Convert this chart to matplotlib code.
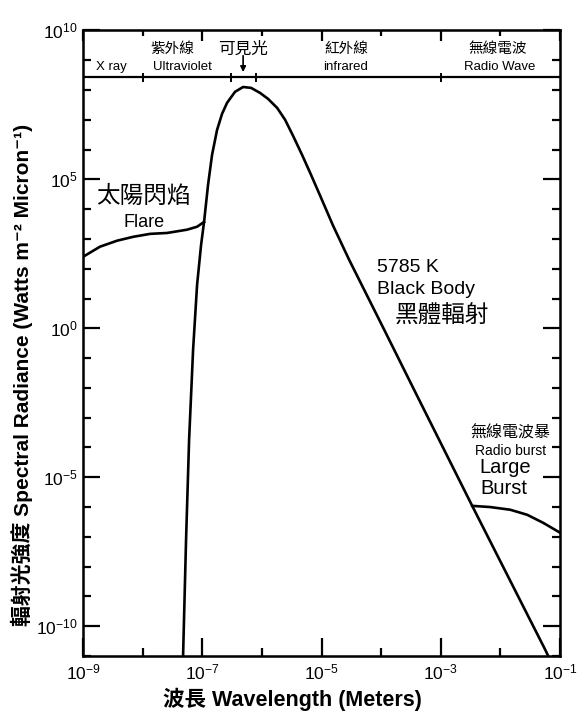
import numpy as np
import matplotlib
matplotlib.use('Agg')
import matplotlib.pyplot as plt
from matplotlib.ticker import FixedLocator, NullFormatter

plt.rcParams['font.family'] = ['Liberation Sans', 'Noto Sans CJK TC', 'DejaVu Sans']
plt.rcParams['mathtext.fontset'] = 'custom'
plt.rcParams['mathtext.rm'] = 'Liberation Sans'
plt.rcParams['mathtext.default'] = 'regular'

# curves, as log10 values
bb_log_wl = [-7.322, -7.272, -7.221, -7.154, -7.087, -7.020, -6.970, -6.903, -6.836,
             -6.752, -6.668, -6.584, -6.450, -6.315, -6.181, -6.030, -5.896, -5.745,
             -5.611, -5.477, -5.326, -5.191, -5.023, -4.805, -4.537, -3.966, -3.396,
             -2.473, -1.248, -1.198]
bb_log_rad = [-11.0, -7.10, -3.74, -0.72, 1.46, 2.80, 3.57, 4.82, 5.82,
              6.66, 7.20, 7.57, 7.94, 8.10, 8.07, 7.90, 7.70, 7.40,
              7.00, 6.46, 5.82, 5.22, 4.45, 3.44, 2.30, 0.02, -2.27,
              -5.96, -10.79, -11.0]

flare_log_wl = [-9.0, -8.715, -8.43, -8.161, -7.876, -7.591, -7.255, -7.087, -6.970]
flare_log_rad = [2.40, 2.74, 2.94, 3.07, 3.17, 3.20, 3.31, 3.41, 3.57]

burst_log_wl = [-2.473, -2.171, -1.836, -1.550, -1.282, -1.0]
burst_log_rad = [-5.96, -6.00, -6.09, -6.26, -6.53, -6.86]

x_major = [1e-9, 1e-7, 1e-5, 1e-3, 1e-1]
x_major_labels = ['$10^{-9}$', '$10^{-7}$', '$10^{-5}$', '$10^{-3}$', '$10^{-1}$']
x_minor = [1e-8, 1e-6, 1e-4, 1e-2]
y_major = [1e-10, 1e-5, 1e0, 1e5, 1e10]
y_major_labels = ['$10^{-10}$', '$10^{-5}$', '$10^{0}$', '$10^{5}$', '$10^{10}$']
y_minor = [10.0 ** k for k in range(-11, 10) if k % 5 != 0]

band_edges = [1e-8, 3e-7, 8e-7, 1e-3]
band_names_cjk = ['紫外線', '可見光', '紅外線', '無線電波']
band_names_cjk_x = [10 ** -7.51, 10 ** -6.32, 10 ** -4.59, 10 ** -2.04]
band_names_en = ['X ray', 'Ultraviolet', 'infrared', 'Radio Wave']
band_names_en_x = [10 ** -8.53, 10 ** -7.34, 10 ** -4.59, 10 ** -2.02]
visible_peak = 10 ** -6.315

bb_wl = 10.0 ** np.array(bb_log_wl)
bb_rad = 10.0 ** np.array(bb_log_rad)
flare_wl = 10.0 ** np.array(flare_log_wl)
flare_rad = 10.0 ** np.array(flare_log_rad)
burst_wl = 10.0 ** np.array(burst_log_wl)
burst_rad = 10.0 ** np.array(burst_log_rad)

fig = plt.figure(figsize=(5.81, 7.15), dpi=100)
ax = fig.add_axes([0.1429, 0.0825, 0.821, 0.875])
ax.set_xscale('log')
ax.set_yscale('log')
ax.set_xlim(1e-9, 1e-1)
ax.set_ylim(1e-11, 1e10)

ax.plot(bb_wl, bb_rad, color='black', lw=1.9, solid_joinstyle='round')
ax.plot(flare_wl, flare_rad, color='black', lw=1.9, solid_joinstyle='round')
ax.plot(burst_wl, burst_rad, color='black', lw=1.9, solid_joinstyle='round')

# ticks
ax.xaxis.set_major_locator(FixedLocator(x_major))
ax.set_xticklabels(x_major_labels)
ax.xaxis.set_minor_locator(FixedLocator(x_minor))
ax.xaxis.set_minor_formatter(NullFormatter())
ax.yaxis.set_major_locator(FixedLocator(y_major))
ax.set_yticklabels(y_major_labels)
ax.yaxis.set_minor_locator(FixedLocator(y_minor))
ax.yaxis.set_minor_formatter(NullFormatter())
ax.tick_params(axis='x', which='major', direction='in', length=13, width=1.6,
               top=False, labelsize=12.5, pad=5)
ax.tick_params(axis='x', which='minor', direction='in', length=5.5, width=1.6, top=False)
ax.tick_params(axis='y', which='major', direction='in', length=12, width=1.6,
               right=True, labelsize=12.5, pad=4)
ax.tick_params(axis='y', which='minor', direction='in', length=5.5, width=1.6, right=True)
for s in ax.spines.values():
    s.set_linewidth(1.8)

axt = ax.twiny()
axt.set_xscale('log')
axt.set_xlim(1e-9, 1e-1)
axt.xaxis.set_major_locator(FixedLocator(x_major))
axt.xaxis.set_minor_locator(FixedLocator(x_minor))
axt.xaxis.set_major_formatter(NullFormatter())
axt.xaxis.set_minor_formatter(NullFormatter())
axt.tick_params(axis='x', which='major', direction='in', length=8, width=1.6)
axt.tick_params(axis='x', which='minor', direction='in', length=4, width=1.6)

# spectrum band on top
ax.axhline(10 ** 8.42, color='black', lw=1.6)
ax.vlines(band_edges, 10 ** 8.26, 10 ** 8.58, color='black', lw=1.4)
for name, xv in zip(band_names_cjk, band_names_cjk_x):
    ax.text(xv, 10 ** 9.36, name, ha='center', va='center',
            fontsize=12 if name == '可見光' else 10.5)
for name, xv in zip(band_names_en, band_names_en_x):
    ax.text(xv, 10 ** 8.78, name, ha='center', va='center', fontsize=9.5)
ax.annotate('', xy=(visible_peak, 10 ** 8.6), xytext=(visible_peak, 10 ** 9.15),
            arrowprops=dict(arrowstyle='-|>', color='black', lw=1.2,
                            mutation_scale=8, shrinkA=0, shrinkB=0))

# annotations
ax.text(10 ** -7.98, 10 ** 4.41, '太陽閃焰', ha='center', va='center', fontsize=17)
ax.text(10 ** -7.98, 10 ** 3.54, 'Flare', ha='center', va='center', fontsize=13)
ax.text(10 ** -4.067, 10 ** 2.03, '5785 K', ha='left', va='center', fontsize=14)
ax.text(10 ** -4.067, 10 ** 1.29, 'Black Body', ha='left', va='center', fontsize=14)
ax.text(10 ** -2.977, 10 ** 0.39, '黑體輻射', ha='center', va='center', fontsize=17)
ax.text(10 ** -1.836, 10 ** -3.51, '無線電波暴', ha='center', va='center', fontsize=11.5)
ax.text(10 ** -1.836, 10 ** -4.11, 'Radio burst', ha='center', va='center', fontsize=10)
ax.text(10 ** -2.356, 10 ** -4.68, 'Large', ha='left', va='center', fontsize=14.5)
ax.text(10 ** -2.34, 10 ** -5.39, 'Burst', ha='left', va='center', fontsize=14.5)

ax.set_xlabel('波長 Wavelength (Meters)', fontsize=15.5, fontweight='bold')
ax.xaxis.set_label_coords(0.438, -0.05)
ax.set_ylabel('輻射光強度 Spectral Radiance (Watts m⁻² Micron⁻¹)',
              fontsize=15, fontweight='bold')
ax.yaxis.set_label_coords(-0.105, 0.45)

fig.savefig('out.png', dpi=100)
